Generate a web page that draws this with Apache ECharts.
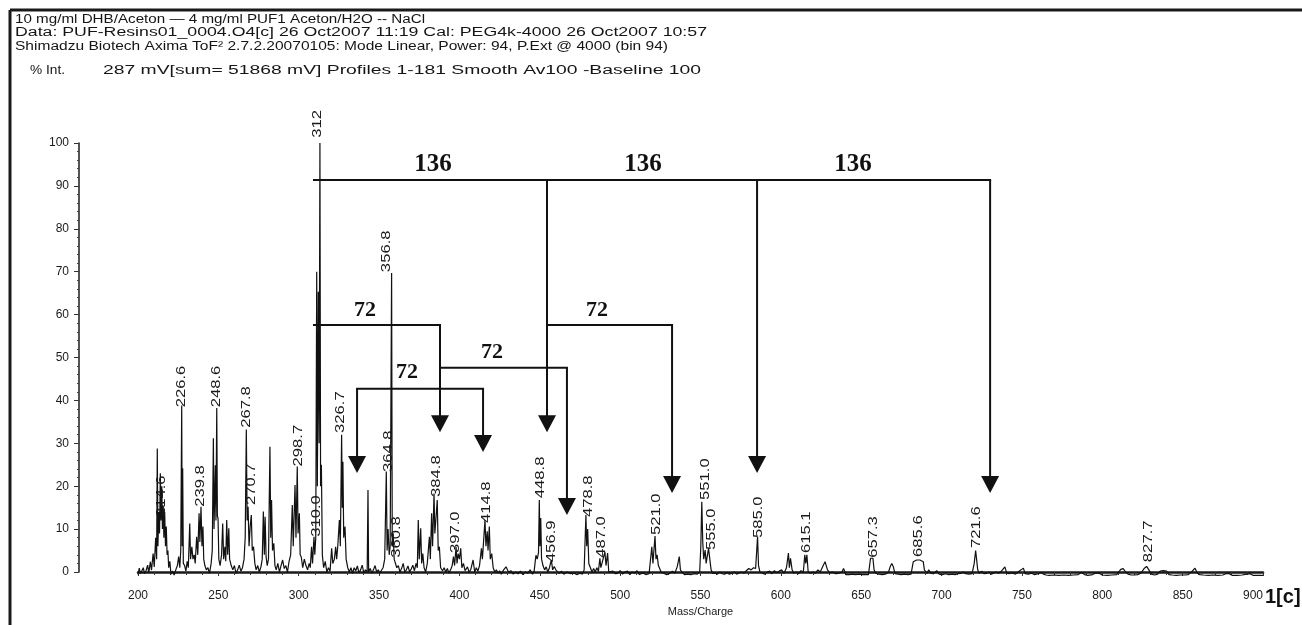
<!DOCTYPE html>
<html><head><meta charset="utf-8">
<script src="https://cdn.jsdelivr.net/npm/echarts@6/dist/echarts.min.js"></script>
<style>html,body{margin:0;padding:0;background:#fff}#c{width:1302px;height:625px}</style>
</head><body><div id="c"></div>
<script>
// ---- header texts ----
const headerLines = [
  '10 mg/ml DHB/Aceton \u2014 4 mg/ml PUF1 Aceton/H2O -- NaCl',
  'Data: PUF-Resins01_0004.O4[c] 26 Oct2007 11:19 Cal: PEG4k-4000 26 Oct2007 10:57',
  'Shimadzu Biotech Axima ToF\u00b2 2.7.2.20070105: Mode Linear, Power: 94, P.Ext @ 4000 (bin 94)'
];
const intLabel = '% Int.';
const intInfo = '287 mV[sum= 51868 mV] Profiles 1-181 Smooth Av100 -Baseline 100';
const xName = 'Mass/Charge';
const cornerTag = '1[c]';

// ---- spectrum profile [m/z, %Int] ----
const spectrum = [
[200,-0.6],[200.8,0.9],[201.5,-0.4],[202.5,-0.3],[203.3,1.0],[204,-0.4],[205,0.3],[206,1.6],[206.7,-0.2],[207.7,2.4],[208.4,0.4],[209.4,4.3],[210.1,1.2],[211,8.0],[211.6,3.0],[212,28.8],[212.4,6],[212.9,14],[213.4,9],[213.9,23],[214.3,12],[214.8,20],[215.2,10],[215.7,15.5],[216.1,8],[216.6,14],[217.1,6],[217.6,10.6],[218.1,4],[218.6,5],[219.1,1],[219.8,2.5],[220.5,-0.5],[221.5,0.2],[222.5,-0.7],[223.5,0.5],[224.5,1.5],[225.3,3.6],[226,1],[226.6,5],[227.2,38.8],[227.5,6],[227.8,24.2],[228.2,2],[229,1.5],[229.8,0.2],[230.6,2.5],[231.3,1],[232.2,11.3],[232.7,3],[233.5,5.9],[234.2,3],[235,4],[235.6,2],[236.5,8.2],[237.2,4],[238,13.7],[238.5,7],[239.2,15.2],[239.8,6],[240.4,10.6],[240.9,3],[241.6,1.5],[242.5,0.5],[243.5,1],[244.5,-0.3],[245.5,2],[246.2,5],[246.9,31.2],[247.3,10],[248.1,24.9],[248.5,12],[249.0,38.2],[249.4,13],[249.8,12.5],[250.3,3],[251.1,1.5],[252,4],[252.7,11.3],[253.3,3],[254.1,5.9],[254.6,2.5],[255.2,12.1],[255.8,4],[256.5,10.2],[257,3],[258,1.5],[259,0.5],[260,1.5],
[261,-0.3],[262,0.5],[263,1.6],[264,0.2],[265,1],[266,3],[266.7,8],[267.4,33.2],[267.9,12],[268.5,15.2],[269.1,6],[269.8,10.6],[270.5,13.3],[271.1,5],[271.9,5.9],[272.7,2],[273.5,0.5],[274.5,1.5],[275.5,0],[276.5,1.2],[277.3,3],[278,14.1],[278.6,4],[279.1,12.9],[279.7,3.6],[280.4,1.5],[281.2,3],[282.1,29.2],[282.6,8],[283.1,16.8],[283.7,5],[284.5,6.7],[285.2,1.5],[286,0.5],[287,2],[288,0],[289,1.5],[290,2.8],[291,0.8],[292,1.5],[293,0],[294,2.5],[295,4],[296,15.6],[296.6,6],[297.7,20.3],[298.3,8],[299.1,24.6],[299.6,9],[300.4,13.7],[300.9,4],[301.6,3.5],[302.5,1],
[303.5,3],[304.5,1.5],[305.5,0.5],[306.5,2],[307.2,1],[308,5.9],[308.6,2],[309.5,8.2],[310,4],[310.6,8],[311.2,70],[311.6,20],[312.2,65.3],[312.7,30],[313.2,100],[313.6,20],[314.1,25],[314.7,4],[315.5,1],[316.5,2.5],[317.5,0],[318.5,1],[319.5,0.2],[320.5,5.5],[321.2,2],[322.2,3],[323,5.9],[323.6,3],[324.3,6],[325.3,12.1],[325.9,6],[326.7,32],[327.1,15],[327.5,25.7],[328,8],[328.8,10.6],[329.5,3],[330.5,1],[331.5,0],[332.5,1],[333.5,-0.3],[334.5,1],[335.5,0.3],[336.5,1.4],[337.5,-0.2],[338.5,0.5],[339.5,1.6],[340.5,-0.2],[341.5,0.5],[342.6,0],[343.1,19.1],[343.5,0],[344.5,0.8],
[345.5,-0.3],[346.5,0.5],[347.5,1.5],[348.5,0],[349.5,0.5],[350.5,-0.3],[351.5,0.4],[352.5,1],[353.5,3],[354.5,23.4],[355,5],[355.6,10],[356.3,4],[356.9,6],[357.8,69.7],[358.2,6],[358.8,9],[359.4,3],[360.2,2.8],[361,1],[362,1.5],[363,0],[364,0.8],[365,2],[366,0],[367,0.5],[368,1.4],[369,0],[370,0.7],[371,1.6],[372,0.3],[373,2],[373.8,1],[374.4,12.1],[375,3],[375.9,10.2],[376.5,2],[377.2,4.3],[378,1],[379,0],[380,2],[381.3,8.2],[381.9,3],[382.7,13.7],[383.3,6],[384.2,18.3],[384.7,9],[385.3,12],[386.2,16.8],[386.8,5],[387.5,5.9],[388.3,1],[389.5,0.3],[390.5,1],[391.5,0],[392.5,0.8],[393.5,-0.3],[394.5,0.5],[395.5,1.5],[396.3,3.6],[397,1.5],[397.9,5.9],[398.5,2],[399.2,4.3],[400,3],
[400.8,5.5],[401.5,1],[402.5,2],[403.5,0.3],[405,1.2],[406,0],[407,0.5],[408.5,2.8],[409.5,0],[410.5,1],[411.5,0.2],[412.5,1.5],[413.7,5.5],[414.3,3],[415.9,12.1],[416.5,6],[417.3,9.5],[417.8,5],[418.6,10.6],[419.2,3],[420.1,4.3],[421,1],[422,0],[423,0.5],[424,-0.3],[425,0.3],[426,-0.5],[427.5,0.5],[429,1.2],[430.5,0],[432,0.3],[433.5,-0.5],[435,0],[436.5,-0.4],[438,0.2],[439.5,-0.6],[441,0],[442.5,-0.3],[444,0.5],[445.5,-0.5],[446.5,0.2],[447.6,3.9],[448.4,3],[449.2,4.5],[449.7,16.8],[450.1,6],[450.6,12.6],[451.1,3],[452,1.5],[453,0.5],[454,1.2],[455,0],[456,1],[457.2,2.8],[458,0.5],[459,1.3],[460,0.5],[461,0.8],[462,-0.3],
[463.5,0.2],[465,-0.5],[467,0],[469,-0.4],[471,-0.2],[473,-0.6],[475,-0.3],[476.5,-0.5],[477.6,0.5],[478.7,13.3],[479.2,6],[479.8,10],[480.5,2],[481.5,1],[482.5,0],[483.5,0.8],[484.5,0],[485.5,1],[486.5,0.2],[487.4,3.2],[488,1],[489,2.5],[490.5,4.7],[491.2,1.5],[492.2,4.4],[492.9,0],[494,-0.2],[495.5,0.2],[497,-0.4],[498.5,-0.3],[500,0.3],[501.5,-0.5],[503,0],[504.5,0.2],[506,-0.6],[507.5,0],[509,-0.3],[510.5,0.3],[512,-0.6],[514,-0.2],[516,-0.6],[518,-0.4],[519.7,5.9],[520.4,2],[521.7,8.4],[522.3,3],[523,4],[523.8,1.5],[524.7,1.2],[525.5,0],
[527,-0.3],[529,-0.6],[531,-0.3],[532.5,0.2],[534,-0.3],[535.5,1.2],[536.8,3.6],[537.5,0.5],[538.5,0],[540,-0.6],[542,-0.5],[544,-0.6],[546,-0.4],[548,-0.5],[549.5,0],[550.2,6],[550.8,16.4],[551.4,7],[552,3],[552.9,5.1],[553.5,2],[555,5.5],[555.9,5.1],[556.6,0.5],[557.5,-0.3],[559,-0.2],[560.5,-0.5],[562,0],[563.5,-0.4],[565,-0.5],[566.5,-0.2],[568,-0.5],[569.5,-0.3],[571,0],[572.5,-0.5],[574,-0.2],[575.5,0],[577,-0.3],[578.5,0.3],[580,0.8],[581.5,0.5],[583,1],[584.3,0.8],[585.5,8.2],[586.1,1.5],[587,0],[588.5,-0.3],[590,-0.5],[591.5,0],[593,0.2],[594.5,-0.4],[596,0.3],[597.5,-0.2],[599,0.2],[600.5,0.5],
[602,-0.3],[603.5,1],[604.7,4.4],[605.3,1],[606,3.2],[607,0.5],[608,-0.3],[609.5,0],[611,-0.4],[612.5,0.3],[614,0],[614.9,4],[615.5,2],[616.2,4],[617,0],[618.5,-0.3],[620,0],[621.5,-0.3],[623,0.5],[624.5,0],[626,1.2],[627.5,2.4],[628.3,2],[629,0.5],[630.5,-0.2],[632,0],[634,-0.4],[636,-0.3],[638,0],[639,0.8],[640.5,-0.6],[642.5,-0.6],[644.5,-0.5],[646.5,-0.6],[648.5,-0.5],[650.5,-0.6],[652.5,-0.6],[654.5,-0.6],[655.8,3.2],[656.6,2.8],[657.3,3.2],[658,0.5],[659,-0.3],[661,-0.5],[663,-0.6],[665,-0.5],[667,0],[668,1.2],[669,2],[670,1.2],[671,-0.4],[673,-0.5],[675,-0.6],[677,-0.5],[679,-0.6],[681,-0.5],[682.4,2.4],[684.5,2.8],[686.5,2.8],[688.6,2.4],[689.3,0.5],[690,0.9],[691,-0.3],[692,0.5],[693.5,-0.3],[695,-0.4],[697,0.3],[698.5,-0.5],[700.5,-0.6],
[702.5,-0.4],[704.5,-0.6],[706.5,-0.5],[708.5,-0.6],[710,-0.4],[712,-0.3],[713.5,0],[715,-0.4],[717,-0.5],[719,-0.4],[720.3,2],[721.2,5],[721.8,4.7],[722.5,0.5],[723.5,-0.3],[725,0.2],[726.5,-0.4],[728,-0.3],[729.5,0],[731,-0.5],[732.5,-0.2],[734,0],[735.5,-0.3],[737.5,0.3],[739.4,1.2],[740.5,-0.2],[742,-0.4],[744,-0.2],[746,-0.5],[748,0.1],[749.5,0.5],[750.9,0.9],[752,-0.4],[754,-0.5],[756,-0.3],[758,-0.6],[760,-0.4],[761,0],[762,-0.1],[763.5,-0.5],[765,-0.7],
[767,-0.8],[770,-0.7],[773,-0.8],[776,-0.7],[779,-0.8],[782,-0.7],[785,-0.6],[787,-0.1],[789,-0.6],[791,-0.8],[794,-0.6],[796,-0.2],[798,-0.3],[800,-0.7],[803,-0.8],[806,-0.7],[809,-0.6],[811.5,0.6],[813,0.8],[814.5,0],[816,-0.5],[818,-0.7],[820,-0.7],[822,-0.6],[824,-0.3],[826,0.8],[827.6,1.3],[829,0.5],[830.5,-0.5],[832.5,-0.7],[834.5,-0.5],[836,0.2],[838,0.3],[840,0.2],[841.5,-0.6],[843.5,-0.7],[846,-0.8],[848.5,-0.7],[851,-0.7],[853.5,-0.6],[855.5,0],[857.7,0.9],[859,-0.2],[860.5,-0.6],[863,-0.7],[866,-0.8],[869,-0.7],[872,-0.8],[875,-0.7],[877,-0.4],[879,-0.4],[881,-0.8],[884,-0.8],[887,-0.7],[890,-0.5],[892,-0.4],[894,-0.8],[897,-0.8],[900,-0.8]
];

// ---- peak labels: text, m/z where drawn, %Int where the label starts ----
const peakLabelText = ['214.6','226.6','239.8','248.6','267.8','270.7','298.7','310.0','312','326.7','356.8','364.8','360.8','384.8','397.0','414.8','448.8','456.9','478.8','487.0','521.0','551.0','555.0','585.0','615.1','657.3','685.6','721.6','827.7'];
const peakLabelMz   = [214.7,227.2,238.6,249.0,267.6,270.8,299.7,311.2,311.5,325.7,354.8,355.8,361.0,385.9,397.2,417.0,450.1,457.4,480.2,488.5,522.8,552.8,557.0,586.0,616.1,657.5,685.5,721.9,828.7];
const peakLabelBase = [12.8,38.4,15.2,38.4,33.6,15.6,24.6,8.2,101.2,32.4,69.9,23.3,3.3,17.5,4.4,11.4,17.2,2.3,12.8,3.3,8.6,16.8,5.1,7.9,4.4,3.3,3.5,5.6,2.3];

// ---- annotations (data units): horizontal brackets [m1, m2, level] ----
const bracketLines = [[309.5,730.2,91.4],[309.5,387.9,57.6],[387.9,466.9,47.6],[336.3,414.7,42.7],[454.5,532.3,57.6]];
// arrows [m, from level, tip level]
const arrowDrops = [[454.5,91.4,32.6],[585.2,91.4,23.1],[730.2,91.4,18.4],[387.9,57.6,32.6],[466.9,47.6,13.3],[336.3,42.7,23.1],[414.7,42.7,28.0],[532.3,57.6,18.4]];
// bracket texts
const bracketText  = ['136','136','136','72','72','72','72'];
const bracketTextMz = [383.6,514.2,644.9,341.2,420.3,367.4,485.6];
const bracketTextY  = [94.9,94.9,94.9,61.0,51.3,46.6,61.0];

const yTicks = [0,10,20,30,40,50,60,70,80,90,100];

// ---------- chart ----------
const chart = echarts.init(document.getElementById('c'), null, {renderer:'canvas'});
const mctx = document.createElement('canvas').getContext('2d');
function fitScale(text, font, width){ mctx.font = font; return width / mctx.measureText(text).width; }
const HF = '12px "Liberation Sans", Arial, sans-serif';
const headerSpec = [[15,20,410],[15,33,692],[15,47,653]];
const TS = {fill:'#151515', align:'left', verticalAlign:'middle', textAlign:'left', textVerticalAlign:'middle'};
const graphic = [
  {type:'line', shape:{x1:10,y1:10,x2:1302,y2:10}, style:{stroke:'#1a1a1a', lineWidth:3}},
  {type:'line', shape:{x1:10,y1:10,x2:10,y2:625}, style:{stroke:'#1a1a1a', lineWidth:3}}
];
headerLines.forEach((t,i)=>{
  graphic.push({type:'text', x:headerSpec[i][0], y:headerSpec[i][1], scaleX:fitScale(t,HF,headerSpec[i][2]),
    style:Object.assign({text:t, font:HF}, TS)});
});
graphic.push({type:'text', x:30, y:71, scaleX:fitScale(intLabel,HF,35), style:Object.assign({text:intLabel, font:HF}, TS)});
graphic.push({type:'text', x:103, y:71, scaleX:fitScale(intInfo,HF,598), style:Object.assign({text:intInfo, font:HF}, TS)});
graphic.push({type:'text', x:1265, y:597, style:Object.assign({text:cornerTag, font:'bold 20px "Liberation Sans", Arial, sans-serif'}, TS, {fill:'#111'})});

const LF = '13px "Liberation Sans", Arial, sans-serif';
const option = {
  animation:false,
  backgroundColor:'#fff',
  grid:{left:138, right:39, top:143, bottom:53, containLabel:false},
  xAxis:{
    type:'value', min:200, max:900, interval:50, offset:6,
    axisLine:{show:true, lineStyle:{color:'#1a1a1a', width:2.5}},
    axisTick:{show:true, inside:false, length:4, lineStyle:{color:'#333', width:1}},
    minorTick:{show:true, splitNumber:5, length:3, lineStyle:{color:'#333', width:1}},
    splitLine:{show:false}, minorSplitLine:{show:false},
    axisLabel:{color:'#1a1a1a', fontSize:12, fontFamily:'Liberation Sans', margin:12, alignMaxLabel:'right'},
    name:xName, nameLocation:'middle', nameGap:28,
    nameTextStyle:{color:'#1a1a1a', fontSize:11, fontFamily:'Liberation Sans', verticalAlign:'top'}
  },
  yAxis:{
    type:'value', min:0, max:100, interval:10, offset:59,
    axisLine:{show:true, lineStyle:{color:'#1a1a1a', width:1.5}},
    axisTick:{show:true, inside:false, length:5, lineStyle:{color:'#333', width:1}},
    minorTick:{show:true, splitNumber:5, length:2, lineStyle:{color:'#444', width:1}},
    splitLine:{show:false},
    axisLabel:{color:'#1a1a1a', fontSize:12, fontFamily:'Liberation Sans', margin:10,
      formatter:v=> yTicks.indexOf(v)>=0 ? String(v) : ''}
  },
  graphic: graphic,
  series:[
    {type:'line', data:spectrum, symbol:'none', showSymbol:false, clip:false, silent:true, z:3,
     lineStyle:{color:'#111', width:1.2}},
    {type:'custom', silent:true, clip:false, z:4,
     data:bracketLines, encode:{x:[0,1], y:2},
     renderItem:(p,api)=>{
       const a = api.coord([api.value(0), api.value(2)]);
       const b = api.coord([api.value(1), api.value(2)]);
       return {type:'line', shape:{x1:a[0]-1, y1:a[1], x2:b[0]+1, y2:b[1]}, style:{stroke:'#111', lineWidth:2}};
     }},
    {type:'custom', silent:true, clip:false, z:4,
     data:arrowDrops, encode:{x:0, y:[1,2]},
     renderItem:(p,api)=>{
       const top = api.coord([api.value(0), api.value(1)]);
       const tip = api.coord([api.value(0), api.value(2)]);
       const h = 17, w = 9;
       return {type:'group', children:[
         {type:'line', shape:{x1:top[0], y1:top[1], x2:tip[0], y2:tip[1]-h+1}, style:{stroke:'#111', lineWidth:2}},
         {type:'polygon', shape:{points:[[tip[0]-w, tip[1]-h],[tip[0]+w, tip[1]-h],[tip[0], tip[1]]]}, style:{fill:'#111'}}
       ]};
     }},
    {type:'custom', silent:true, clip:false, z:5,
     data:bracketTextMz.map((m,i)=>[m, bracketTextY[i], i]), encode:{x:0, y:1},
     renderItem:(p,api)=>{
       const c = api.coord([api.value(0), api.value(1)]);
       const t = bracketText[api.value(2)];
       const fs = t.length === 3 ? 25 : 22;
       return {type:'text', x:c[0], y:c[1], style:{text:t, font:'bold '+fs+'px "Liberation Serif", "Times New Roman", serif', fill:'#111',
         align:'center', verticalAlign:'middle', textAlign:'center', textVerticalAlign:'middle'}};
     }},
    {type:'custom', silent:true, clip:false, z:6,
     data:peakLabelMz.map((m,i)=>[m, peakLabelBase[i], i]), encode:{x:0, y:1},
     renderItem:(p,api)=>{
       const c = api.coord([api.value(0), api.value(1)]);
       const t = peakLabelText[api.value(2)];
       return {type:'text', x:c[0], y:c[1], rotation:Math.PI/2, scaleX:1.28,
         style:{text:t, font:LF, fill:'#1a1a1a', align:'left', verticalAlign:'middle', textAlign:'left', textVerticalAlign:'middle'}};
     }}
  ]
};
chart.setOption(option);
</script>
</body></html>
